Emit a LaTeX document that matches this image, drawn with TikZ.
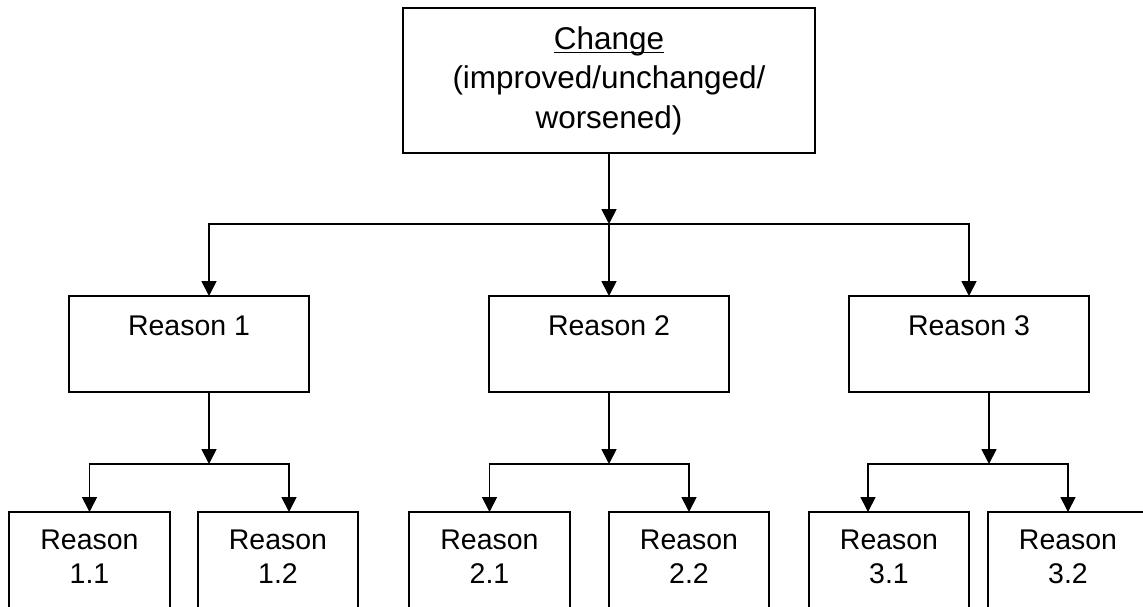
\documentclass[tikz,border=0pt]{standalone}
\usepackage{fontspec}
\setmainfont{Liberation Sans}
\usepackage{tikz}
\usetikzlibrary{arrows.meta, positioning}

\newcommand{\ulword}[1]{\setbox0\hbox{#1}\rlap{\rule[-0.11em]{\wd0}{0.06em}}\box0}

\begin{document}
\begin{tikzpicture}[
  topbox/.style={draw, line width=1pt, inner sep=0pt, outer sep=0pt, align=center,
                 minimum width=8.24cm, text height=2.4cm, text depth=0.5cm,
                 font=\fontsize{17.9}{22.2}\selectfont},
  reason/.style={draw, line width=1pt, inner sep=0pt, outer sep=0pt, align=center,
                 minimum width=4.8cm, text height=0.78cm, text depth=1.14cm,
                 font=\fontsize{16.2}{18.8}\selectfont},
  sub/.style={draw, line width=1pt, inner sep=0pt, outer sep=0pt, align=center,
              minimum width=3.2cm, text height=1.42cm, text depth=1.14cm,
              font=\fontsize{16.2}{18.8}\selectfont},
  arrow/.style={-{Triangle[length=0.3cm, width=0.3cm]}, line width=1pt}
]
  \useasboundingbox (0,0) rectangle (22.86,-12.12);

  \node[topbox] (C) at (12.18,-1.61) {\ulword{Change}\\(improved/unchanged/\\worsened)};

  \node[reason] (R1) at (3.78,-6.88)  {Reason 1};
  \node[reason] (R2) at (12.18,-6.88) {Reason 2};
  \node[reason] (R3) at (19.38,-6.88) {Reason 3};

  \node[sub, minimum width=3.22cm] (R11) at (1.79,-11.52)  {Reason\\1.1};
  \node[sub] (R12) at (5.56,-11.52)  {Reason\\1.2};
  \node[sub, minimum width=3.22cm] (R21) at (9.79,-11.52)  {Reason\\2.1};
  \node[sub] (R22) at (13.78,-11.52) {Reason\\2.2};
  \node[sub] (R31) at (17.78,-11.52) {Reason\\3.1};
  \node[sub] (R32) at (21.36,-11.52) {Reason\\3.2};

  \coordinate (J0) at (12.18,-4.48);
  \coordinate (J1) at (4.18,-9.28);
  \coordinate (J2) at (12.18,-9.28);
  \coordinate (J3) at (19.78,-9.28);

  \draw[arrow] (C) -- (J0);
  \draw[arrow] (J0) -| ([xshift=4mm]R1.north);
  \draw[arrow] (J0) -- (R2);
  \draw[arrow] (J0) -| (R3);

  \draw[arrow] ([xshift=4mm]R1.south) -- (J1);
  \draw[arrow] (J1) -| (R11);
  \draw[arrow] (J1) -| ([xshift=2.2mm]R12.north);

  \draw[arrow] (R2) -- (J2);
  \draw[arrow] (J2) -| (R21);
  \draw[arrow] (J2) -| (R22);

  \draw[arrow] ([xshift=4mm]R3.south) -- (J3);
  \draw[arrow] (J3) -| ([xshift=-4.2mm]R31.north);
  \draw[arrow] (J3) -| (R32);
\end{tikzpicture}
\end{document}
